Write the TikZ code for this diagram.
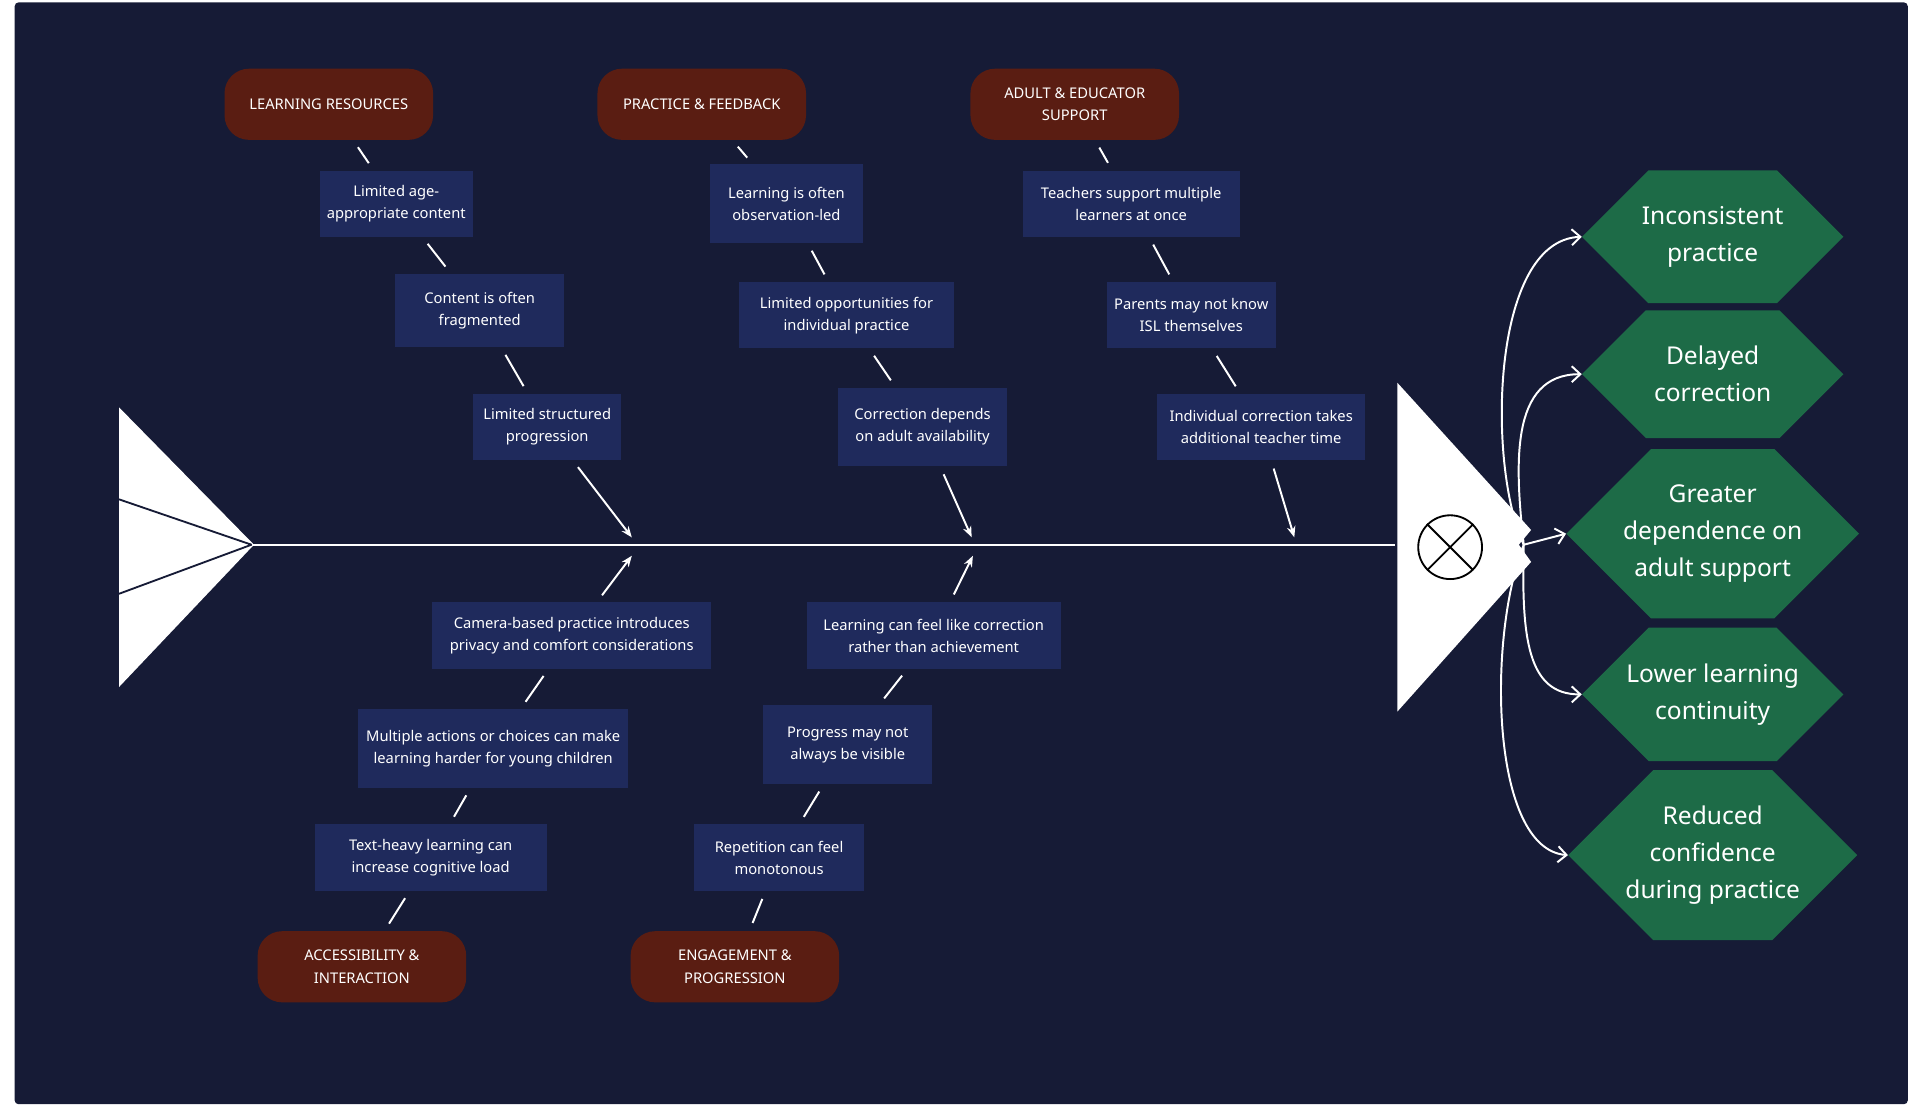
\documentclass[tikz,border=0pt]{standalone}
\usepackage{fontspec}
\setmainfont{Noto Sans}
\usetikzlibrary{shapes.misc,arrows.meta}
\definecolor{navy}{HTML}{161B36}
\definecolor{boxblue}{HTML}{1F2A5C}
\definecolor{catred}{HTML}{5A1D12}
\definecolor{effgreen}{HTML}{1D6B47}
\tikzset{
  cause/.style={fill=boxblue,text=white,align=center,inner sep=0pt,font=\fontsize{12}{18}\selectfont},
  cat/.style={fill=catred,text=white,align=center,rounded corners=20pt,minimum width=170pt,minimum height=58pt,font=\fontsize{12}{18}\selectfont\bfseries},
  effect/.style={chamfered rectangle,chamfered rectangle xsep=44pt,chamfered rectangle ysep=26pt,fill=effgreen,text=white,align=center,minimum width=213pt,font=\fontsize{20}{30}\selectfont\bfseries},
  bone/.style={white,line width=1.6pt,shorten <=7pt,shorten >=7pt},
  rib/.style={bone,-{Stealth[length=9pt,width=7pt]}},
  result/.style={white,line width=1.6pt,-{Straight Barb[length=7pt,width=13pt]}}
}
\begin{document}
\begin{tikzpicture}[x=1pt,y=-1pt]
\useasboundingbox (0,0) rectangle (1565,911);
\fill[navy,rounded corners=3pt] (12,2) rectangle (1555,900);

% tail and spine
\fill[white] (97,332) -- (207,444) -- (97,560) -- cycle;
\draw[navy,line width=1.5pt] (97,407) -- (205,444) -- (97,484);
\coordinate (tail) at (205,444);
\coordinate (head) at (1137,444);
\draw[white,line width=1.6pt] (tail) -- (head);

% head
\fill[white] (1139,312) -- (1248,432) -- (1238,444) -- (1248,458) -- (1139,580) -- cycle;
\node[draw=black,circle,line width=1.5pt,minimum size=52pt] (x) at (1182,446) {};
\draw[black,line width=1.5pt] (x.45) -- (x.225) (x.135) -- (x.315);
\coordinate (hub) at (1242,444);

%categories
\node[cat] (lr) at (268,85) {LEARNING RESOURCES};
\node[cat] (pf) at (572,85) {PRACTICE \& FEEDBACK};
\node[cat] (ae) at (876,85) {ADULT \& EDUCATOR\\SUPPORT};
\node[cat] (ai) at (295,788) {ACCESSIBILITY \&\\INTERACTION};
\node[cat] (ep) at (599,788) {ENGAGEMENT \&\\PROGRESSION};

%primo ramo
\node[cause,minimum width=125pt,minimum height=54pt] (lr1) at (323,166) {Limited age-\\appropriate content};
\node[cause,minimum width=138pt,minimum height=60pt] (lr2) at (391,253) {Content is often\\fragmented};
\node[cause,minimum width=121pt,minimum height=54pt] (lr3) at (446,348) {Limited structured\\progression};
\coordinate (s1) at (515,438);
\draw[bone] (lr) -- (lr1);
\draw[bone] (lr1) -- (lr2);
\draw[bone] (lr2) -- (lr3);
\draw[rib,shorten >=0pt] (lr3) -- (s1);

%secondo ramo
\node[cause,minimum width=125pt,minimum height=64pt] (pf1) at (641,166) {Learning is often\\observation-led};
\node[cause,minimum width=176pt,minimum height=54pt] (pf2) at (690,257) {Limited opportunities for\\individual practice};
\node[cause,minimum width=138pt,minimum height=64pt] (pf3) at (752,348) {Correction depends\\on adult availability};
\coordinate (s2) at (792,438);
\draw[bone] (pf) -- (pf1);
\draw[bone] (pf1) -- (pf2);
\draw[bone] (pf2) -- (pf3);
\draw[rib,shorten >=0pt] (pf3) -- (s2);

%terzo ramo
\node[cause,minimum width=177pt,minimum height=54pt] (ae1) at (922,166) {Teachers support multiple\\learners at once};
\node[cause,minimum width=138pt,minimum height=54pt] (ae2) at (971,257) {Parents may not know\\ISL themselves};
\node[cause,minimum width=170pt,minimum height=54pt] (ae3) at (1028,348) {Individual correction takes\\additional teacher time};
\coordinate (s3) at (1055,438);
\draw[bone] (ae) -- (ae1);
\draw[bone] (ae1) -- (ae2);
\draw[bone] (ae2) -- (ae3);
\draw[rib,shorten >=0pt] (ae3) -- (s3);

%quarto ramo
\node[cause,minimum width=227pt,minimum height=54pt] (ai1) at (466,518) {Camera-based practice introduces\\privacy and comfort considerations};
\node[cause,minimum width=220pt,minimum height=64pt] (ai2) at (402,610) {Multiple actions or choices can make\\learning harder for young children};
\node[cause,minimum width=189pt,minimum height=54pt] (ai3) at (351,699) {Text-heavy learning can\\increase cognitive load};
\coordinate (s4) at (515,453);
\draw[bone] (ai) -- (ai3);
\draw[bone] (ai3) -- (ai2);
\draw[bone] (ai2) -- (ai1);
\draw[rib,shorten >=0pt] (ai1) -- (s4);

%quinto ramo
\node[cause,minimum width=207pt,minimum height=54pt] (ep1) at (761,518) {Learning can feel like correction\\rather than achievement};
\node[cause,minimum width=138pt,minimum height=64pt] (ep2) at (691,607) {Progress may not\\always be visible};
\node[cause,minimum width=138pt,minimum height=54pt] (ep3) at (635,699) {Repetition can feel\\monotonous};
\coordinate (s5) at (793,453);
\draw[bone] (ep) -- (ep3);
\draw[bone] (ep3) -- (ep2);
\draw[bone] (ep2) -- (ep1);
\draw[rib,shorten >=0pt] (ep1) -- (s5);

%effetti
\node[effect,minimum height=83pt] (e1) at (1396,193) {Inconsistent\\practice};
\node[effect,minimum height=83pt] (e2) at (1396,305) {Delayed\\correction};
\node[effect,minimum height=122pt] (e3) at (1396,435) {Greater\\dependence on\\adult support};
\node[effect,minimum height=83pt] (e4) at (1396,566) {Lower learning\\continuity};
\node[effect,minimum height=122pt] (e5) at (1396,697) {Reduced\\confidence\\during practice};
\draw[result] (hub) .. controls (1212,380) and (1215,196) .. (e1.west);
\draw[result] (hub) .. controls (1235,380) and (1230,305) .. (e2.west);
\draw[result] (hub) -- (e3.west);
\draw[result] (hub) .. controls (1240,520) and (1245,566) .. (e4.west);
\draw[result] (hub) .. controls (1212,520) and (1215,692) .. (e5.west);
\end{tikzpicture}
\end{document}
